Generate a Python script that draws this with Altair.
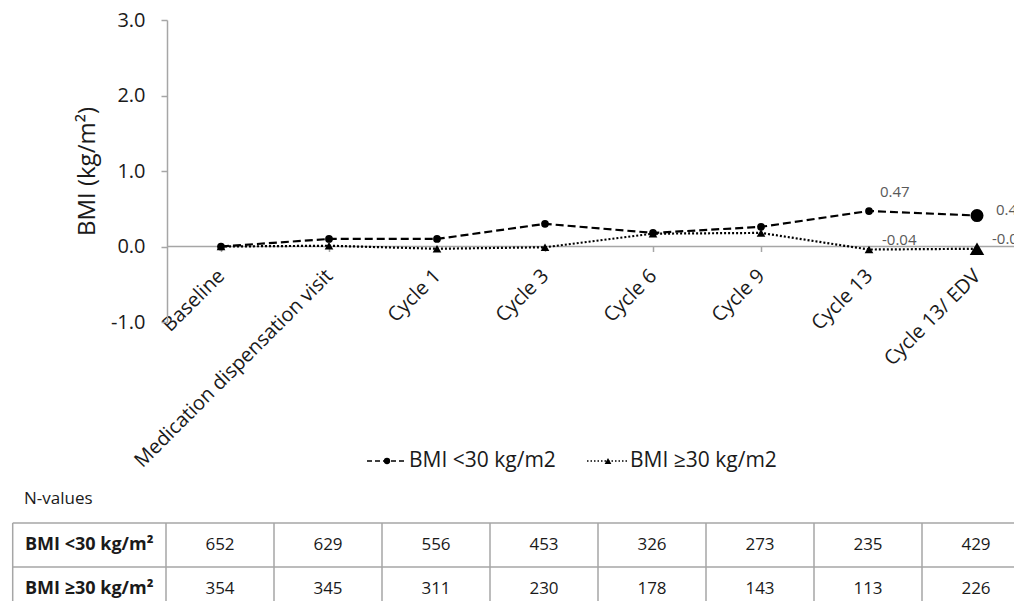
import altair as alt
import pandas as pd

# ---------------- data ----------------
timepoints = ["Baseline", "Medication dispensation visit", "Cycle 1", "Cycle 3",
              "Cycle 6", "Cycle 9", "Cycle 13", "Cycle 13/ EDV"]
bmi_lt30 = [0.0, 0.10, 0.10, 0.30, 0.18, 0.26, 0.47, 0.41]
bmi_ge30 = [0.0, 0.01, -0.03, -0.01, 0.17, 0.18, -0.04, -0.03]
series_names = ["BMI <30 kg/m2", "BMI \u226530 kg/m2"]
y_ticks = [-1, 0, 1, 2, 3]
n_title = "N-values"
row_labels = ["BMI <30 kg/m\u00b2", "BMI \u226530 kg/m\u00b2"]
n_lt30 = [652, 629, 556, 453, 326, 273, 235, 429]
n_ge30 = [354, 345, 311, 230, 178, 143, 113, 226]

FONT = "Open Sans"
GRAY = "#a6a6a6"
TXT = "#1a1a1a"
LBL = "#595959"

df1 = pd.DataFrame({"t": timepoints, "v": bmi_lt30})
df2 = pd.DataFrame({"t": timepoints, "v": bmi_ge30})

# ---------------- main plot ----------------
x_enc = alt.X(
    "t:N", sort=timepoints,
    scale=alt.Scale(type="point", domain=timepoints, range=[213, 969], padding=0),
    axis=alt.Axis(title=None, orient="bottom", offset=-354.5, domain=False,
                  ticks=True, tickSize=5, tickColor=GRAY, tickWidth=1.5,
                  labelAngle=-45, labelAlign="right", labelBaseline="middle",
                  labelPadding=21, labelFont=FONT, labelFontSize=20,
                  labelColor=TXT, labelLimit=500),
)
y_enc = alt.Y(
    "v:Q",
    scale=alt.Scale(domain=[-1, 3], range=[314, 12], nice=False, zero=False),
    axis=alt.Axis(values=y_ticks, format=".1f", orient="left", offset=-159,
                  labelExpr="replace(datum.label, '\u2212', '-')",
                  grid=False, domainColor=GRAY, domainWidth=1.5, tickColor=GRAY,
                  tickWidth=1.5, tickSize=6, labelFont=FONT, labelFontSize=20,
                  labelColor=TXT, labelPadding=16, title="BMI (kg/m\u00b2)",
                  titleFont=FONT, titleFontSize=24, titleFontWeight="normal",
                  titleColor=TXT, titlePadding=11),
)

zero_line = alt.Chart(pd.DataFrame({"v": [0.0]})).mark_rule(
    color=GRAY, strokeWidth=1.5).encode(
    x=alt.value(159), x2=alt.value(1014), y=y_enc)

size_cond = alt.condition(alt.datum.t == timepoints[-1], alt.value(170), alt.value(60))
size_cond2 = alt.condition(alt.datum.t == timepoints[-1], alt.value(210), alt.value(75))

line1 = alt.Chart(df1).mark_line(color="black", strokeWidth=2.2, strokeDash=[8, 4]).encode(x=x_enc, y=y_enc)
line2 = alt.Chart(df2).mark_line(color="black", strokeWidth=2.2, strokeDash=[2, 2]).encode(x=x_enc, y=y_enc)
pts1 = alt.Chart(df1).mark_point(filled=True, shape="circle", color="black", opacity=1).encode(
    x=x_enc, y=y_enc, size=size_cond)
pts2 = alt.Chart(df2).mark_point(filled=True, shape="triangle-up", color="black", opacity=1).encode(
    x=x_enc, y=y_enc, size=size_cond2)

def lab(df, idx, dx, dy):
    d = df.iloc[[idx]].copy()
    d["lab"] = [f"{v:.2f}" for v in d["v"]]
    return alt.Chart(d).mark_text(align="left", baseline="middle", dx=dx, dy=dy,
                                  font=FONT, fontSize=15, color=LBL).encode(
        x=x_enc, y=y_enc, text="lab:N")

labels = [lab(df1, 6, 11, -19), lab(df1, 7, 19, -6),
          lab(df2, 6, 13, -10), lab(df2, 7, 15, -10)]

plot = alt.layer(zero_line, line1, line2, pts1, pts2, *labels)

# ---------------- legend ----------------
leg_y = 453
legend = [
    alt.Chart(pd.DataFrame({"a": [0]})).mark_rule(color="black", strokeWidth=1.6, strokeDash=[5, 3]).encode(
        x=alt.value(359), x2=alt.value(399), y=alt.value(leg_y)),
    alt.Chart(pd.DataFrame({"a": [0]})).mark_point(filled=True, shape="circle", color="black", size=40, opacity=1).encode(
        x=alt.value(379), y=alt.value(leg_y)),
    alt.Chart(pd.DataFrame({"label": [series_names[0]]})).mark_text(
        align="left", baseline="middle", font=FONT, fontSize=21, color=TXT).encode(
        x=alt.value(401), y=alt.value(leg_y), text="label:N"),
    alt.Chart(pd.DataFrame({"a": [0]})).mark_rule(color="black", strokeWidth=1.6, strokeDash=[1.5, 2]).encode(
        x=alt.value(579), x2=alt.value(619), y=alt.value(leg_y)),
    alt.Chart(pd.DataFrame({"a": [0]})).mark_point(filled=True, shape="triangle-up", color="black", size=45, opacity=1).encode(
        x=alt.value(600), y=alt.value(leg_y)),
    alt.Chart(pd.DataFrame({"label": [series_names[1]]})).mark_text(
        align="left", baseline="middle", font=FONT, fontSize=21, color=TXT).encode(
        x=alt.value(622), y=alt.value(leg_y), text="label:N"),
    alt.Chart(pd.DataFrame({"label": [n_title]})).mark_text(
        align="left", baseline="middle", font=FONT, fontSize=17, color=TXT).encode(
        x=alt.value(16), y=alt.value(491), text="label:N"),
]

# ---------------- table ----------------
tdf = pd.DataFrame({
    "t": timepoints * 2,
    "row": [row_labels[0]] * len(timepoints) + [row_labels[1]] * len(timepoints),
    "n": n_lt30 + n_ge30,
})
rows_df = pd.DataFrame({"row": row_labels})
cols_df = pd.DataFrame({"t": timepoints})

tscale = alt.Scale(type="band", domain=timepoints, range=[158, 1022], paddingInner=0, paddingOuter=0)
rscale = alt.Scale(type="band", domain=row_labels, range=[515, 603], paddingInner=0, paddingOuter=0)

t_text = alt.Chart(tdf).mark_text(font=FONT, fontSize=17, color=TXT, baseline="middle").encode(
    x=alt.X("t:N", scale=tscale, axis=None),
    y=alt.Y("row:N", scale=rscale, axis=None),
    text="n:Q")
t_head = alt.Chart(rows_df).mark_text(font=FONT, fontSize=18, fontWeight="bold", color=TXT,
                                     align="left", baseline="middle").encode(
    x=alt.value(17), y=alt.Y("row:N", scale=rscale, axis=None), text="row:N")
t_vr = alt.Chart(cols_df).mark_rule(color=GRAY, strokeWidth=1.5).encode(
    x=alt.X("t:N", scale=tscale, axis=None, bandPosition=0),
    y=alt.value(515), y2=alt.value(603))
t_vr_end = alt.Chart(cols_df.iloc[[-1]]).mark_rule(color=GRAY, strokeWidth=1.5).encode(
    x=alt.X("t:N", scale=tscale, axis=None, bandPosition=1),
    y=alt.value(515), y2=alt.value(603))
t_vr_left = alt.Chart(pd.DataFrame({"a": [0]})).mark_rule(color=GRAY, strokeWidth=1.5).encode(
    x=alt.value(4.7), y=alt.value(515), y2=alt.value(603))
t_hr = alt.Chart(rows_df).mark_rule(color=GRAY, strokeWidth=1.5).encode(
    y=alt.Y("row:N", scale=rscale, axis=None, bandPosition=0),
    x=alt.value(4.7), x2=alt.value(1006))

table = alt.layer(t_vr_left, t_vr, t_vr_end, t_hr, t_head, t_text)

chart = alt.layer(plot, table, *legend).resolve_scale(
    x="independent", y="independent"
).properties(
    width=1006, height=593,
    autosize=alt.AutoSizeParams(type="none"),
    padding=0, background="white",
).configure_view(stroke=None)

chart.save("out.html", embed_options={"renderer": "svg", "actions": False})
